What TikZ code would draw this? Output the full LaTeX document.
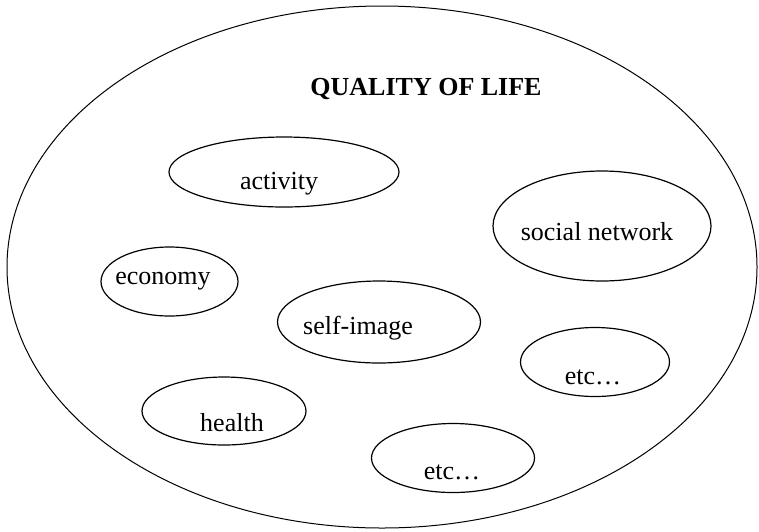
\documentclass[tikz,border=0pt]{standalone}
\usepackage{fontspec}
\setmainfont{Liberation Serif}
\usetikzlibrary{shapes.geometric}
\tikzset{
  blob/.style={draw,ellipse,line width=1.2pt,inner sep=0pt},
  lbl/.style={font=\fontsize{26}{30}\selectfont,inner sep=0pt}
}
\begin{document}
\begin{tikzpicture}[line cap=round,line join=round,x=1pt,y=-1pt]
\useasboundingbox (0.,0.) rectangle (759.,531.);
\node [blob,line width=1.pt,minimum width=750pt,minimum height=522pt] (life) at (382.,267.) {};
\node [lbl,font=\bfseries\fontsize{26}{30}\selectfont] (title) at (426.,89.) {QUALITY OF LIFE};
\node [blob,minimum width=230pt,minimum height=70pt] (act) at (284.,172.) {};
\node [lbl] (actl) at (279.,184.) {activity};
\node [blob,minimum width=218pt,minimum height=110pt] (soc) at (602.,226.) {};
\node [lbl] (socl) at (597.,232.) {social network};
\node [blob,minimum width=137pt,minimum height=69pt] (eco) at (169.5,281.5) {};
\node [lbl] (ecol) at (163.,281.) {economy};
\node [blob,minimum width=203pt,minimum height=82pt] (self) at (379.,322.) {};
\node [lbl] (selfl) at (358.,328.) {self-image};
\node [blob,minimum width=149pt,minimum height=69pt] (etca) at (595.,362.) {};
\node [lbl] (etcal) at (593.,377.) {etc\dots};
\node [blob,minimum width=164pt,minimum height=68pt] (hea) at (224.,411.) {};
\node [lbl] (heal) at (232.,423.) {health};
\node [blob,minimum width=163pt,minimum height=69pt] (etcb) at (453.,458.) {};
\node [lbl] (etcbl) at (452.,472.) {etc\dots};
\end{tikzpicture}
\end{document}
